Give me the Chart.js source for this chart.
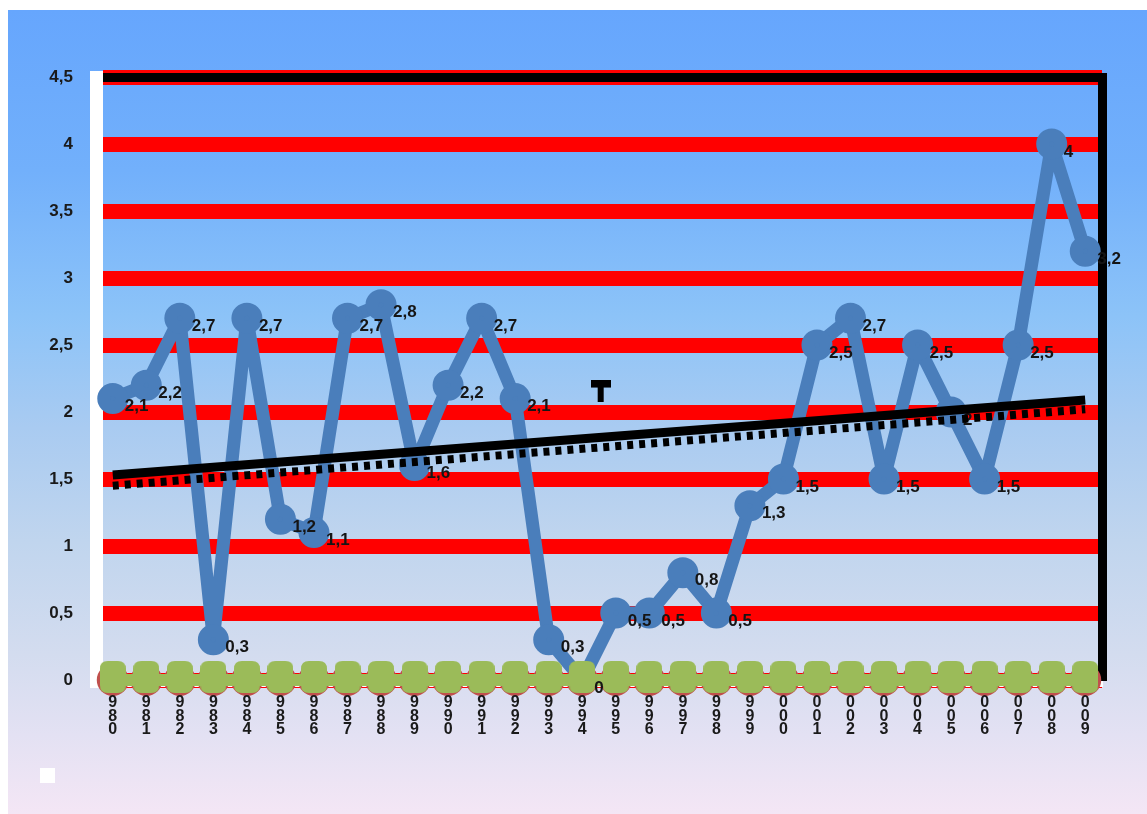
<!DOCTYPE html>
<html>
<head>
<meta charset="utf-8">
<script src="https://cdn.jsdelivr.net/npm/chart.js@4/dist/chart.umd.min.js"></script>
<style>
  html, body { margin: 0; padding: 0; background: #ffffff; overflow: hidden; }
  #bg { position: absolute; left: 8px; top: 10px; width: 1139px; height: 804px;
    background: linear-gradient(to bottom, #66a6fd 0%, #72b0fb 20%, #8cc3f8 38%, #a9cbf1 52%, #c0d5ee 66%, #d3dcef 80%, #e3e1f3 90%, #f4e6f5 100%); }
  #wrap { position: absolute; left: 0; top: 0; width: 1147px; height: 814px; }
</style>
</head>
<body>
<div id="bg"></div>
<div id="wrap"><canvas id="c" width="1147" height="814"></canvas></div>
<script>
// ---- data ----
const xLabels = ['980','981','982','983','984','985','986','987','988','989',
                 '990','991','992','993','994','995','996','997','998','999',
                 '000','001','002','003','004','005','006','007','008','009'];
const seriesValues = [2.1, 2.2, 2.7, 0.3, 2.7, 1.2, 1.1, 2.7, 2.8, 1.6,
                      2.2, 2.7, 2.1, 0.3, 0, 0.5, 0.5, 0.8, 0.5, 1.3,
                      1.5, 2.5, 2.7, 1.5, 2.5, 2.0, 1.5, 2.5, 4, 3.2];
const redBaseValues = [0,0,0,0,0,0,0,0,0,0,0,0,0,0,0,0,0,0,0,0,0,0,0,0,0,0,0,0,0,0];
const greenBaseValues = [0,0,0,0,0,0,0,0,0,0,0,0,0,0,0,0,0,0,0,0,0,0,0,0,0,0,0,0,0,0];
const trendSolid = [1.53, null, null, null, null, null, null, null, null, null,
                    null, null, null, null, null, null, null, null, null, null,
                    null, null, null, null, null, null, null, null, null, 2.09];
const trendDashed = [1.45, null, null, null, null, null, null, null, null, null,
                     null, null, null, null, null, null, null, null, null, null,
                     null, null, null, null, null, null, null, null, null, 2.02];
const markerT = [{x: 14.55, y: 2.16}];
const yTickLabels = ['0','0,5','1','1,5','2','2,5','3','3,5','4','4,5'];

// ---- custom point images ----
function greenMarker() {
  const W = 26, H = 32;
  const c = document.createElement('canvas'); c.width = W; c.height = 38;
  const g = c.getContext('2d'); g.fillStyle = '#9bbb59';
  const r = 8; g.beginPath();
  g.moveTo(r,0); g.lineTo(W-r,0); g.quadraticCurveTo(W,0,W,r);
  g.lineTo(W,H-r); g.quadraticCurveTo(W,H,W-r,H);
  g.lineTo(r,H); g.quadraticCurveTo(0,H,0,H-r);
  g.lineTo(0,r); g.quadraticCurveTo(0,0,r,0); g.fill();
  return c;
}
function tMarker() {
  const c = document.createElement('canvas'); c.width = 20; c.height = 22;
  const g = c.getContext('2d'); g.fillStyle = '#000';
  g.fillRect(0,0,20,8); g.fillRect(7,7,6,15);
  return c;
}

const labelPlugin = {
  id: 'valueLabels',
  afterDatasetDraw(chart, args) {
    if (chart.data.datasets[args.index].label !== 'base green') return;
    const meta = chart.getDatasetMeta(0);
    const ctx = chart.ctx;
    ctx.save();
    ctx.font = 'bold 17px "Liberation Sans", Arial, sans-serif';
    ctx.fillStyle = '#151515';
    ctx.textAlign = 'left';
    ctx.textBaseline = 'middle';
    meta.data.forEach((pt, i) => {
      const v = seriesValues[i];
      ctx.fillText(String(v).replace('.', ','), pt.x + 12, pt.y + 8);
    });
    ctx.restore();
  }
};

const chart = new Chart(document.getElementById('c'), {
  type: 'line',
  data: {
    labels: xLabels,
    datasets: [
      { label: 'valeurs', data: seriesValues, borderColor: '#4a7ebb', backgroundColor: '#4a7ebb',
        borderWidth: 13, pointRadius: 9, pointHoverRadius: 9, pointStyle: 'circle', tension: 0, order: 6,
        borderJoinStyle: 'round', clip: false },
      { label: 'base red', data: redBaseValues, borderColor: '#c0504d', backgroundColor: '#c0504d',
        borderWidth: 0, showLine: false, pointRadius: 16, pointStyle: 'circle', order: 5, clip: false },
      { label: 'base green', data: greenBaseValues, borderColor: '#9bbb59', backgroundColor: '#9bbb59',
        borderWidth: 12, pointStyle: greenMarker(), pointRadius: 13, order: 4, clip: false },
      { label: 'trend dashed', data: trendDashed, borderColor: '#000', borderWidth: 8, borderDash: [6, 6],
        pointRadius: 0, spanGaps: true, order: 3 },
      { label: 'trend', data: trendSolid, borderColor: '#000', borderWidth: 9, pointRadius: 0,
        spanGaps: true, order: 2 },
      { label: 'T', data: markerT, xAxisID: 'xT', showLine: false, pointStyle: tMarker(),
        pointRadius: 10, order: 1 },
      { label: '', data: [], backgroundColor: '#ffffff', borderColor: '#ffffff', borderWidth: 0, order: 0 }
    ]
  },
  options: {
    responsive: false,
    animation: false,
    devicePixelRatio: 1,
    layout: { padding: { left: 30, right: 0, top: 77, bottom: 21 } },
    plugins: {
      legend: {
        display: true, position: 'bottom', align: 'start',
        labels: { boxWidth: 15, boxHeight: 15, padding: 10, font: { size: 12 },
          filter: (item) => item.text === '' }
      },
      tooltip: { enabled: false },
      title: { display: false }
    },
    scales: {
      x: {
        type: 'category', position: 'bottom', offset: true,
        grid: { display: false, drawTicks: false },
        border: { display: true, color: '#ffffff', width: 13 },
        ticks: {
          padding: 16, color: '#1a1a1a', maxRotation: 0, autoSkip: false, z: 1,
          font: { family: '"Liberation Sans", Arial, sans-serif', size: 16, weight: 'bold', lineHeight: 0.85 },
          callback: function(v, i) { return xLabels[i].split(''); }
        },
        afterFit: (s) => { s.height = 78; }
      },
      xTop: {
        type: 'category', position: 'top', offset: true,
        grid: { display: false, drawTicks: false },
        border: { display: true, color: '#000000', width: 9 },
        ticks: { display: false },
        afterFit: (s) => { s.height = 0; }
      },
      xT: { type: 'linear', display: false, min: -0.5, max: 29.5 },
      y: {
        type: 'linear', position: 'left', min: 0, max: 4.5,
        grid: { color: '#ff0000', lineWidth: 15, drawTicks: false },
        border: { display: true, color: '#ffffff', width: 13 },
        ticks: {
          stepSize: 0.5, padding: 23, color: '#1a1a1a',
          font: { family: '"Liberation Sans", Arial, sans-serif', size: 17, weight: 'bold' },
          callback: function(v) { const i = Math.round(v / 0.5); return yTickLabels[i]; }
        },
        afterFit: (s) => { s.width = 66; }
      },
      y2: {
        type: 'linear', position: 'right', min: 0, max: 4.5,
        grid: { display: false, drawTicks: false },
        border: { display: true, color: '#000000', width: 9 },
        ticks: { display: false },
        afterFit: (s) => { s.width = 45; }
      }
    }
  },
  plugins: [labelPlugin]
});
</script>
</body>
</html>
